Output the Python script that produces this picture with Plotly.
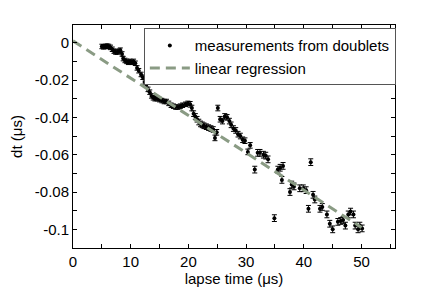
import plotly.graph_objects as go

# measurements from doublets: lapse time (µs) and dt (µs)
lapse_time = [
    5.0, 5.3, 5.6, 5.9, 6.2, 6.5, 6.8, 7.1, 7.4, 7.7, 8.0, 8.2, 8.5, 8.7, 9.0, 9.3,
    9.6, 9.9, 10.2, 10.5, 10.8, 11.1, 11.4, 11.8, 12.1, 12.4, 12.7, 13.0, 13.3, 13.6,
    13.9, 14.2, 14.6, 15.0, 15.4, 15.8, 16.2, 16.6, 17.0, 17.4, 17.8, 18.2, 18.6,
    19.0, 19.5, 19.9, 20.3, 20.6, 20.9, 21.2, 21.5, 21.8, 22.1, 22.4, 22.7, 23.1,
    23.5, 23.9, 24.3, 24.6, 24.9, 25.1, 25.5, 25.9, 26.3, 26.7, 27.1, 27.4, 27.8,
    28.2, 28.6, 29.0, 29.4, 29.8, 30.3, 30.7, 31.5, 32.0, 32.4, 33.0, 33.4, 33.8,
    34.9, 35.5, 35.9, 36.4, 36.2, 37.6, 37.9, 38.3, 39.3, 39.9, 40.4, 40.8, 41.2,
    41.6, 41.9, 42.8, 43.2, 44.0, 44.5, 45.0, 45.9, 46.4, 46.8, 47.2, 47.7, 48.1,
    48.6, 48.9, 49.4, 49.7, 50.1,
]
dt = [
    -0.0020, -0.0022, -0.0020, -0.0018, -0.0020, -0.0025, -0.0035, -0.0045, -0.0050,
    -0.0050, -0.0045, -0.0040, -0.0060, -0.0085, -0.0095, -0.0100, -0.0105, -0.0100,
    -0.0105, -0.0100, -0.0110, -0.0135, -0.0150, -0.0170, -0.0185, -0.0210, -0.0225,
    -0.0250, -0.0265, -0.0285, -0.0295, -0.0300, -0.0300, -0.0305, -0.0310, -0.0315,
    -0.0315, -0.0325, -0.0335, -0.0340, -0.0345, -0.0345, -0.0340, -0.0335, -0.0330,
    -0.0325, -0.0330, -0.0350, -0.0380, -0.0395, -0.0410, -0.0425, -0.0435, -0.0440,
    -0.0445, -0.0450, -0.0455, -0.0460, -0.0465, -0.0510, -0.0480, -0.0350, -0.0410,
    -0.0420, -0.0395, -0.0400, -0.0420, -0.0440, -0.0460, -0.0470, -0.0490, -0.0500,
    -0.0520, -0.0525, -0.0585, -0.0550, -0.0680, -0.0590, -0.0590, -0.0600, -0.0605,
    -0.0625, -0.0940, -0.0680, -0.0670, -0.0660, -0.0735, -0.0800, -0.0760, -0.0770,
    -0.0780, -0.0780, -0.0790, -0.0890, -0.0640, -0.0815, -0.0840, -0.0890, -0.0880,
    -0.0920, -0.0970, -0.1000, -0.0960, -0.0955, -0.0950, -0.0980, -0.0920, -0.0905,
    -0.0920, -0.0980, -0.1000, -0.0980, -0.0995,
]
dt_err = [0.0012] * 46 + [0.0015] * 30 + [0.0018] * (len(dt) - 76)

# linear regression endpoints
fit_time = [0.0, 50.0]
fit_dt = [0.001, -0.099]

x_tick_vals = [0, 5, 10, 15, 20, 25, 30, 35, 40, 45, 50, 55]
x_tick_text = ["0", "", "10", "", "20", "", "30", "", "40", "", "50", ""]
y_tick_vals = [0.0, -0.01, -0.02, -0.03, -0.04, -0.05, -0.06, -0.07, -0.08, -0.09, -0.1, -0.11]
y_tick_text = ["0", "", "-0.02", "", "-0.04", "", "-0.06", "", "-0.08", "", "-0.1", ""]

font = "Liberation Sans, Arial, Helvetica, sans-serif"

fig = go.Figure()
fig.add_trace(go.Scatter(
    x=lapse_time, y=dt, mode="markers", name="measurements from doublets",
    marker=dict(color="black", size=4),
    error_y=dict(type="data", array=dt_err, color="black", thickness=1, width=2.5),
))
fig.add_trace(go.Scatter(
    x=fit_time, y=fit_dt, mode="lines", name="linear regression",
    line=dict(color="#8a9b84", width=3, dash="10px,6px"),
))

axis_common = dict(
    showline=True, linecolor="black", linewidth=1, mirror="ticks",
    ticks="inside", ticklen=4, tickcolor="black", tickwidth=1,
    showgrid=False, zeroline=False, tickfont=dict(size=15, color="black"),
)
fig.update_xaxes(range=[0, 55.8], tickmode="array", tickvals=x_tick_vals,
                 ticktext=x_tick_text,
                 title=dict(text="lapse time (μs)", font=dict(size=15, color="black"), standoff=2),
                 **axis_common)
fig.update_yaxes(range=[-0.11, 0.0095], tickmode="array", tickvals=y_tick_vals,
                 ticktext=y_tick_text,
                 title=dict(text="dt (μs)", font=dict(size=15, color="black"), standoff=8),
                 **axis_common)

fig.update_layout(
    width=436, height=295,
    margin=dict(l=73, r=41, t=25, b=43),
    plot_bgcolor="white", paper_bgcolor="white",
    font=dict(family=font, size=15, color="black"),
    legend=dict(x=0.22, y=0.985, xanchor="left", yanchor="top",
                bgcolor="white", bordercolor="#555555", borderwidth=1,
                font=dict(size=15), itemwidth=40, tracegroupgap=0),
)

fig.write_html("out.html", config={"displayModeBar": False},
               post_script="document.body.style.margin='0';document.body.style.overflow='hidden';")
